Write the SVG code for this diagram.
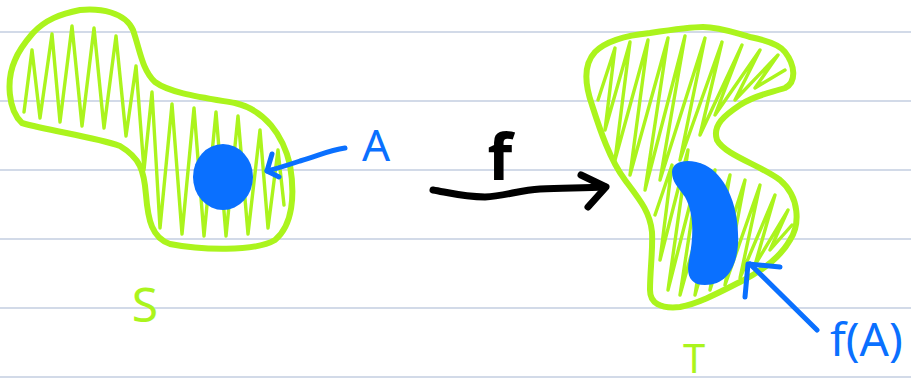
<svg xmlns="http://www.w3.org/2000/svg" width="911" height="388" viewBox="0 0 911 388">
<style>
.rule{stroke:#c3cee0;stroke-width:1.5}
.outline{fill:none;stroke:#abf41d;stroke-width:6;stroke-linejoin:round;stroke-linecap:round}
.hatch{fill:none;stroke:#abf41d;stroke-width:3.4;stroke-linejoin:round;stroke-linecap:round}
.blue{fill:#0a70ff}
.bline{fill:none;stroke:#0a70ff;stroke-width:5;stroke-linecap:round;stroke-linejoin:round}
.black{fill:none;stroke:#000;stroke-width:7;stroke-linecap:round;stroke-linejoin:round}
.lbl{font-family:"Noto Sans","Liberation Sans",sans-serif}
</style>
<defs>
<clipPath id="clipS"><path id="shapeS" d="M33,33 C45,20 60,14 80,10 C100,8 125,12 133,30 C140,50 142,70 155,82 C170,93 200,97 235,103 C265,110 283,135 290,165 C295,195 293,225 275,240 C255,252 200,250 170,244 C152,238 148,220 146,195 C144,170 140,158 120,146 C95,137 50,131 22,123 C8,110 6,80 15,60 C20,48 27,40 33,33 Z"/></clipPath>
<clipPath id="clipT"><path id="shapeT" d="M650,33 C670,30 690,27 703,27 C720,27 735,33 750,37 C765,40 780,45 785,52 C795,65 797,82 785,88 C770,93 755,95 740,105 C725,115 712,125 717,140 C725,155 760,165 780,180 C800,197 800,225 790,240 C780,258 760,272 740,282 C720,292 700,303 680,307 C660,309 650,303 650,290 C650,270 653,250 652,232 C650,212 640,200 625,180 C610,160 600,130 592,105 C585,85 583,65 595,52 C607,40 630,35 650,33 Z"/></clipPath>
</defs>
<rect width="911" height="388" fill="#fff"/>
<g id="rules">
<line class="rule" x1="0" y1="32" x2="911" y2="32"/>
<line class="rule" x1="0" y1="101" x2="911" y2="101"/>
<line class="rule" x1="0" y1="170" x2="911" y2="170"/>
<line class="rule" x1="0" y1="239" x2="911" y2="239"/>
<line class="rule" x1="0" y1="308" x2="911" y2="308"/>
<line class="rule" x1="0" y1="377" x2="911" y2="377"/>
</g>
<g id="S">
<polyline class="hatch" clip-path="url(#clipS)" points="24,112 32,50 40,118 52,34 60,122 72,26 82,126 94,28 104,128 116,36 126,136 136,66 144,170 152,92 160,228 172,104 182,234 194,108 204,236 216,112 226,236 238,116 248,234 260,130 268,228 278,150 284,205"/>
<use href="#shapeS" class="outline"/>
<text class="lbl" x="145" y="322" font-size="48" fill="#abf41d" text-anchor="middle">S</text>
</g>
<g id="A">
<ellipse class="blue" cx="223" cy="177" rx="30" ry="33"/>
<text class="lbl" x="376" y="161" font-size="44" fill="#0a70ff" text-anchor="middle">A</text>
</g>
<g id="T">
<polyline class="hatch" clip-path="url(#clipT)" points="598,100 615,48 605,130 630,42 615,160 648,40 630,175 668,38 645,190 685,36 660,180 705,38 680,160 722,42 700,135 742,45 715,115 760,50 735,100 778,55 755,88 785,70"/>
<polyline class="hatch" clip-path="url(#clipT)" points="655,215 672,165 660,260 688,150 668,290 700,165 680,295 715,170 695,295 730,175 710,290 745,180 725,285 760,185 740,278 775,195 755,265 788,210 770,250 792,225"/>
<use href="#shapeT" class="outline"/>
<text class="lbl" x="694" y="373" font-size="40" fill="#abf41d" text-anchor="middle">T</text>
</g>
<g id="fA">
<path class="blue" d="M672,172 C672,160 690,158 705,165 C725,175 740,205 738,245 C736,270 725,285 705,285 C690,285 686,275 689,260 C693,240 695,215 685,197 C678,187 672,182 672,172 Z"/>
<text class="lbl" x="830" y="356" font-size="46" fill="#0a70ff">f(A)</text>
</g>
<g id="connectors">
<path class="bline" d="M345,148 C330,150 320,155 300,161 C285,166 275,169 267,171"/>
<polyline class="bline" points="272,154 267,171 279,177"/>
<path class="bline" d="M817,330 L750,264"/>
<polyline class="bline" points="745,297 748,264 780,267"/>
<path class="black" d="M433,190 C450,193 465,197 485,197 C505,196 520,190 540,189 C565,188 585,188 605,187"/>
<polyline class="black" points="581,175 606,187 588,207"/>
<text class="lbl" x="500" y="180" font-size="64" font-weight="bold" fill="#000" text-anchor="middle">f</text>
</g>
</svg>
